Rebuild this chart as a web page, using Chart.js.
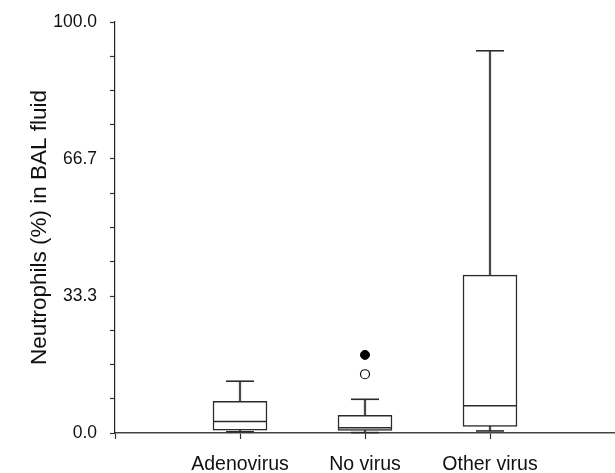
<!DOCTYPE html>
<html>
<head>
<meta charset="utf-8">
<script src="https://cdn.jsdelivr.net/npm/chart.js@4.4.1/dist/chart.umd.min.js"></script>
<style>
  html, body { margin: 0; padding: 0; background: #fff; }
  #wrap { width: 615px; height: 473px; }
</style>
</head>
<body>
<div id="wrap"><canvas id="boxChart"></canvas></div>
<script>
// categories (empty slots at the ends give the axis its margins)
const groups = ["", "Adenovirus", "No virus", "Other virus", ""];

// box plot summaries, neutrophils % in BAL fluid
const lowWhisker  = [null, 0.3, 0.1, 0.5, null];
const lowerQuart  = [null, 0.7, 0.6, 1.6, null];
const medians     = [null, 2.8, 1.3, 6.6, null];
const upperQuart  = [null, 7.7, 4.3, 38.4, null];
const highWhisker = [null, 12.6, 8.2, 93.0, null];

// outliers (No virus only)
const farOutlier  = [null, null, 19.0, null, null];
const nearOutlier = [null, null, 14.3, null, null];

const yTickValues = [0, 8.33, 16.67, 25, 33.3, 41.67, 50, 58.33, 66.7, 75, 83.33, 91.67, 100];
const yTickLabels = ["0.0", "", "", "", "33.3", "", "", "", "66.7", "", "", "", "100.0"];

const family = "'Liberation Sans', Arial, Helvetica, sans-serif";
const ink = "#2b2b2b";

const ranges = (a, b) => a.map((v, i) => (v === null ? null : [v, b[i]]));

new Chart(document.getElementById("boxChart"), {
  type: "bar",
  data: {
    labels: groups,
    datasets: [
      {
        type: "bar",
        data: ranges(lowWhisker, highWhisker),
        backgroundColor: "#4a4a4a",
        borderWidth: 0,
        barThickness: 1.6,
        grouped: false,
        order: 4
      },
      {
        type: "bar",
        data: ranges(lowerQuart, upperQuart),
        backgroundColor: "#fff",
        borderColor: ink,
        borderWidth: 1.5,
        borderSkipped: false,
        barThickness: 54,
        grouped: false,
        order: 3
      },
      {
        type: "line",
        data: medians,
        showLine: false,
        pointStyle: "line",
        pointRadius: 27,
        pointBorderWidth: 1.5,
        pointBorderColor: ink,
        order: 1
      },
      {
        type: "line",
        data: highWhisker,
        showLine: false,
        pointStyle: "line",
        pointRadius: 14,
        pointBorderWidth: 1.6,
        pointBorderColor: ink,
        order: 1
      },
      {
        type: "line",
        data: lowWhisker,
        showLine: false,
        pointStyle: "line",
        pointRadius: 14,
        pointBorderWidth: 1.6,
        pointBorderColor: ink,
        order: 1
      },
      {
        type: "line",
        data: farOutlier,
        showLine: false,
        pointStyle: "circle",
        pointRadius: 4.5,
        pointBackgroundColor: "#000",
        pointBorderColor: "#000",
        pointBorderWidth: 1,
        order: 0
      },
      {
        type: "line",
        data: nearOutlier,
        showLine: false,
        pointStyle: "circle",
        pointRadius: 4.5,
        pointBackgroundColor: "#fff",
        pointBorderColor: "#111",
        pointBorderWidth: 1.2,
        order: 0
      }
    ]
  },
  options: {
    responsive: true,
    maintainAspectRatio: false,
    animation: false,
    events: [],
    clip: false,
    layout: { autoPadding: false, padding: { top: 22, right: 0, left: 0, bottom: 0 } },
    plugins: { legend: { display: false }, tooltip: { enabled: false } },
    scales: {
      x: {
        type: "category",
        offset: false,
        grid: {
          offset: false,
          drawOnChartArea: false,
          tickLength: 6,
          tickWidth: 1.2,
          tickColor: c => (c.index === groups.length - 1 ? "rgba(0,0,0,0)" : "#333")
        },
        border: { color: "#444", width: 1.6 },
        ticks: { color: "#111", font: { family, size: 19.5 }, padding: 14, maxRotation: 0, autoSkip: false },
        afterFit: s => { s.height = 40; s.paddingLeft = 0; s.paddingRight = 0; }
      },
      y: {
        min: 0,
        max: 100,
        afterBuildTicks: s => { s.ticks = yTickValues.map(v => ({ value: v })); },
        grid: { drawOnChartArea: false, tickLength: 5, tickWidth: 1.2, tickColor: "#333" },
        border: { color: "#222", width: 1.2 },
        ticks: {
          color: "#111",
          font: { family, size: 17.5 },
          padding: 13,
          callback: (v, i) => yTickLabels[i]
        },
        title: {
          display: true,
          text: "Neutrophils (%) in BAL fluid",
          color: "#111",
          font: { family, size: 22.5 },
          padding: { top: 26, bottom: 0 }
        },
        afterFit: s => { s.width = 115; s.paddingTop = 0; s.paddingBottom = 0; }
      }
    }
  }
});
</script>
</body>
</html>
